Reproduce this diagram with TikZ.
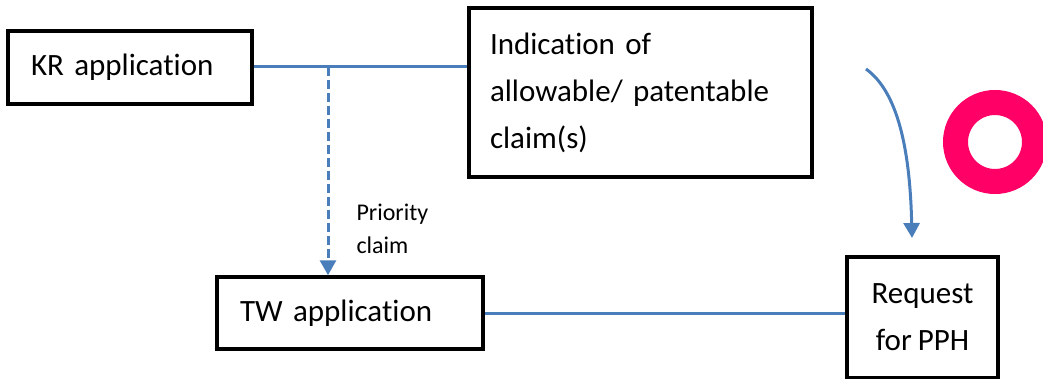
\documentclass[tikz,border=0pt]{standalone}
\usepackage{fontspec}
\setmainfont{Carlito}[Ligatures={NoCommon},RawFeature={-calt},WordSpace=0.85]
\usetikzlibrary{arrows.meta}
\definecolor{linkblue}{HTML}{4A7EBB}
\definecolor{okpink}{HTML}{FF0066}
\begin{document}
\begin{tikzpicture}[x=1pt,y=-1pt,
  box/.style={draw,line width=3.5pt,inner sep=0pt,align=left,
    font=\fontsize{31}{47}\selectfont},
  link/.style={linkblue,line width=3pt},
  tip/.style={-{Triangle[width=16pt,length=15pt]}}]
  \useasboundingbox (0,0) rectangle (1043,379);
  % boxes
  \node[box,minimum width=244pt,minimum height=73pt,text width=198pt] (kr) at (130,67.5) {KR application};
  \node[box,minimum width=343pt,minimum height=169pt,text width=301pt] (ind) at (640.5,92.5)
    {Indication of\\allowable/ patentable\\claim(s)};
  \node[box,minimum width=266pt,minimum height=72pt,text width=220pt] (tw) at (350,313) {TW application};
  \node[box,minimum width=151pt,minimum height=121pt,align=center] (req) at (922.5,317.5) {Request\\for PPH};
  \node[anchor=west,align=left,font=\fontsize{24}{33}\selectfont] (prio) at (353,229) {Priority\\claim};
  % connectors
  \coordinate (jn) at (328,67);
  \draw[link] (kr.east |- jn) -- (ind.west |- jn);
  \draw[link,tip,dash pattern=on 9pt off 4pt] (jn) -- (jn |- tw.north);
  \draw[link] (tw.east) -- (tw.east -| req.west);
  \coordinate (cs) at (866,69);
  \coordinate (ce) at (912,238);
  \draw[link,tip] (cs) .. controls (898,92) and (910,150) .. (ce);
  % ring
  \draw[okpink,line width=25pt] (995,142) circle[radius=39.5];
\end{tikzpicture}
\end{document}
